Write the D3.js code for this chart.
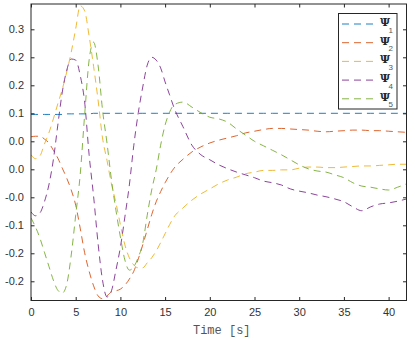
<!DOCTYPE html>
<html>
<head>
<meta charset="utf-8">
<script src="https://cdn.jsdelivr.net/npm/d3@7"></script>
<style>
  body { margin: 0; background: #fff; }
  svg { display: block; }
</style>
</head>
<body>
<script>
// time grid (s): fine early, coarser later
const time = [
  0, 0.5, 1, 1.5, 2, 2.5, 3, 3.5, 4, 4.5, 5, 5.5, 6, 6.5, 7, 7.5, 8, 8.5, 9, 9.5,
  10, 10.5, 11, 11.5, 12, 12.5, 13, 13.5, 14, 14.5, 15, 15.5, 16,
  17, 18, 19, 20, 21, 22, 23, 24, 25, 26, 27, 28, 29, 30,
  31, 32, 33, 34, 35, 36, 37, 38, 39, 40, 41, 42
];

const psi1 = [
  0.098, 0.098, 0.098, 0.098, 0.098, 0.098, 0.098, 0.098, 0.099, 0.099, 0.099, 0.099, 0.099, 0.099, 0.1, 0.1, 0.1, 0.1, 0.1, 0.1,
  0.1, 0.1, 0.1, 0.1, 0.1, 0.1, 0.1, 0.1, 0.1, 0.1, 0.1, 0.1, 0.1,
  0.1, 0.1, 0.1, 0.1, 0.1, 0.1, 0.1, 0.1, 0.1, 0.1, 0.1, 0.1, 0.1, 0.1,
  0.1, 0.1, 0.1, 0.1, 0.1, 0.1, 0.1, 0.1, 0.1, 0.1, 0.1, 0.1
];
const psi2 = [
  0.058, 0.059, 0.059, 0.054, 0.047, 0.034, 0.020, 0.002, -0.016, -0.037, -0.064, -0.105, -0.149, -0.182, -0.208, -0.226, -0.231, -0.226, -0.219, -0.217,
  -0.214, -0.207, -0.196, -0.182, -0.160, -0.135, -0.108, -0.081, -0.058, -0.040, -0.024, -0.010, 0.002,
  0.018, 0.031, 0.040, 0.047, 0.052, 0.056, 0.060, 0.065, 0.068, 0.071, 0.073, 0.073, 0.072, 0.071,
  0.070, 0.068, 0.067, 0.068, 0.069, 0.070, 0.070, 0.069, 0.069, 0.068, 0.067, 0.066
];
const psi3 = [
  0.026, 0.019, 0.024, 0.045, 0.065, 0.090, 0.117, 0.143, 0.174, 0.209, 0.251, 0.292, 0.283, 0.238, 0.184, 0.124, 0.056, 0.016, -0.026, -0.060,
  -0.099, -0.135, -0.158, -0.171, -0.176, -0.176, -0.167, -0.158, -0.146, -0.131, -0.115, -0.099, -0.085,
  -0.069, -0.055, -0.044, -0.035, -0.026, -0.019, -0.014, -0.008, -0.005, -0.002, -0.002, -0.001, -0.001, 0.002,
  0.004, 0.004, 0.003, 0.003, 0.004, 0.005, 0.006, 0.006, 0.007, 0.008, 0.009, 0.009
];
const psi4 = [
  -0.076, -0.083, -0.078, -0.058, -0.028, 0.017, 0.079, 0.138, 0.177, 0.197, 0.195, 0.168, 0.120, 0.026, -0.048, -0.132, -0.198, -0.228, -0.217, -0.180,
  -0.139, -0.085, -0.028, 0.043, 0.101, 0.147, 0.186, 0.200, 0.195, 0.181, 0.156, 0.133, 0.110,
  0.076, 0.043, 0.026, 0.017, 0.008, 0.001, -0.005, -0.010, -0.015, -0.021, -0.024, -0.028, -0.035, -0.039,
  -0.042, -0.046, -0.049, -0.053, -0.058, -0.067, -0.074, -0.067, -0.062, -0.060, -0.057, -0.053
];
const psi5 = [
  -0.087, -0.103, -0.123, -0.148, -0.173, -0.198, -0.216, -0.221, -0.205, -0.153, -0.082, -0.010, 0.097, 0.195, 0.227, 0.186, 0.106, 0.047, -0.019, -0.073,
  -0.121, -0.162, -0.180, -0.174, -0.157, -0.132, -0.082, -0.037, -0.001, 0.043, 0.079, 0.102, 0.115,
  0.120, 0.111, 0.101, 0.093, 0.090, 0.084, 0.072, 0.061, 0.050, 0.042, 0.034, 0.026, 0.017, 0.008,
  0.001, -0.003, -0.005, -0.010, -0.015, -0.024, -0.030, -0.032, -0.035, -0.037, -0.032, -0.026
];

const seriesNames = ['1', '2', '3', '4', '5'];
const seriesValues = [psi1, psi2, psi3, psi4, psi5];
const colors = ['#0072BD', '#D95319', '#EDB120', '#7E2F8E', '#77AC30'];

const xTicks = [0, 5, 10, 15, 20, 25, 30, 35, 40];
const yTicks = [0.25, 0.2, 0.15, 0.1, 0.05, 0, -0.05, -0.1, -0.15, -0.2];
const yTickLabels = ['0.3', '0.2', '0.2', '0.1', '0.0', '0.0', '-0.0', '-0.1', '-0.2', '-0.2'];

const width = 415;
const height = 340;
const plot = { left: 31, right: 406.5, top: 4, bottom: 300.5 };
const axisColor = '#262626';

const svg = d3.select('body')
  .append('svg')
  .attr('width', width)
  .attr('height', height);

const x = d3.scaleLinear().domain([0, 42]).range([plot.left, plot.right]);
const y = d3.scaleLinear().domain([-0.2343, 0.2952]).range([plot.bottom, plot.top]);

svg.append('defs').append('clipPath').attr('id', 'clip')
  .append('rect')
  .attr('x', plot.left).attr('y', plot.top)
  .attr('width', plot.right - plot.left).attr('height', plot.bottom - plot.top);

// lines
const line = d3.line()
  .x((d, i) => x(time[i]))
  .y(d => y(d))
  .curve(d3.curveMonotoneX);

svg.append('g')
  .attr('clip-path', 'url(#clip)')
  .selectAll('path')
  .data(seriesValues)
  .enter()
  .append('path')
  .attr('d', line)
  .attr('fill', 'none')
  .attr('stroke', (d, i) => colors[i])
  .attr('stroke-width', 0.9)
  .attr('stroke-dasharray', '7,5');

// axes, inward ticks on all four sides
const tickLen = 3.5;
const fontTick = '11px "Liberation Sans", Arial, sans-serif';

const xAxisB = d3.axisBottom(x).tickValues(xTicks).tickSizeInner(-tickLen).tickSizeOuter(0).tickPadding(8);
const xAxisT = d3.axisTop(x).tickValues(xTicks).tickSizeInner(-tickLen).tickSizeOuter(0).tickFormat('');
const yAxisL = d3.axisLeft(y).tickValues(yTicks).tickSizeInner(-tickLen).tickSizeOuter(0).tickPadding(7)
  .tickFormat((d, i) => yTickLabels[i]);
const yAxisR = d3.axisRight(y).tickValues(yTicks).tickSizeInner(-tickLen).tickSizeOuter(0).tickFormat('');

function styleAxis(g) {
  g.select('.domain').remove();
  g.selectAll('line').attr('stroke', axisColor);
  g.selectAll('text').style('font', fontTick).attr('fill', '#333');
}

svg.append('g').attr('transform', `translate(0,${plot.bottom})`).call(xAxisB).call(styleAxis);
svg.append('g').attr('transform', `translate(0,${plot.top})`).call(xAxisT).call(styleAxis);
svg.append('g').attr('transform', `translate(${plot.left},0)`).call(yAxisL).call(styleAxis);
svg.append('g').attr('transform', `translate(${plot.right},0)`).call(yAxisR).call(styleAxis);

svg.append('rect')
  .attr('x', plot.left).attr('y', plot.top)
  .attr('width', plot.right - plot.left).attr('height', plot.bottom - plot.top)
  .attr('fill', 'none')
  .attr('stroke', axisColor)
  .attr('stroke-width', 1);

svg.append('text')
  .attr('x', (plot.left + plot.right) / 2 + 3)
  .attr('y', 334)
  .attr('text-anchor', 'middle')
  .style('font', '12px "Liberation Mono", "DejaVu Sans Mono", monospace')
  .attr('fill', '#555')
  .text('Time [s]');

// legend
const legend = svg.append('g');
legend.append('rect')
  .attr('x', 338.5).attr('y', 13.5)
  .attr('width', 58.5).attr('height', 95.5)
  .attr('fill', '#fff')
  .attr('stroke', axisColor)
  .attr('stroke-width', 1);

const item = legend.selectAll('g.item')
  .data(seriesNames)
  .enter()
  .append('g')
  .attr('class', 'item')
  .attr('transform', (d, i) => `translate(0,${24 + i * 18.7})`);

item.append('line')
  .attr('x1', 342).attr('x2', 377)
  .attr('stroke', (d, i) => colors[i])
  .attr('stroke-width', 0.9)
  .attr('stroke-dasharray', '7,5');

item.append('text')
  .attr('x', 380)
  .attr('y', 2)
  .style('font', 'bold 11px "DejaVu Serif", "Liberation Serif", serif')
  .attr('fill', axisColor)
  .text('\u03A8');

item.append('text')
  .attr('x', 388.5)
  .attr('y', 8.5)
  .style('font', '8px "Liberation Sans", Arial, sans-serif')
  .attr('fill', '#555')
  .text(d => d);
</script>
</body>
</html>
